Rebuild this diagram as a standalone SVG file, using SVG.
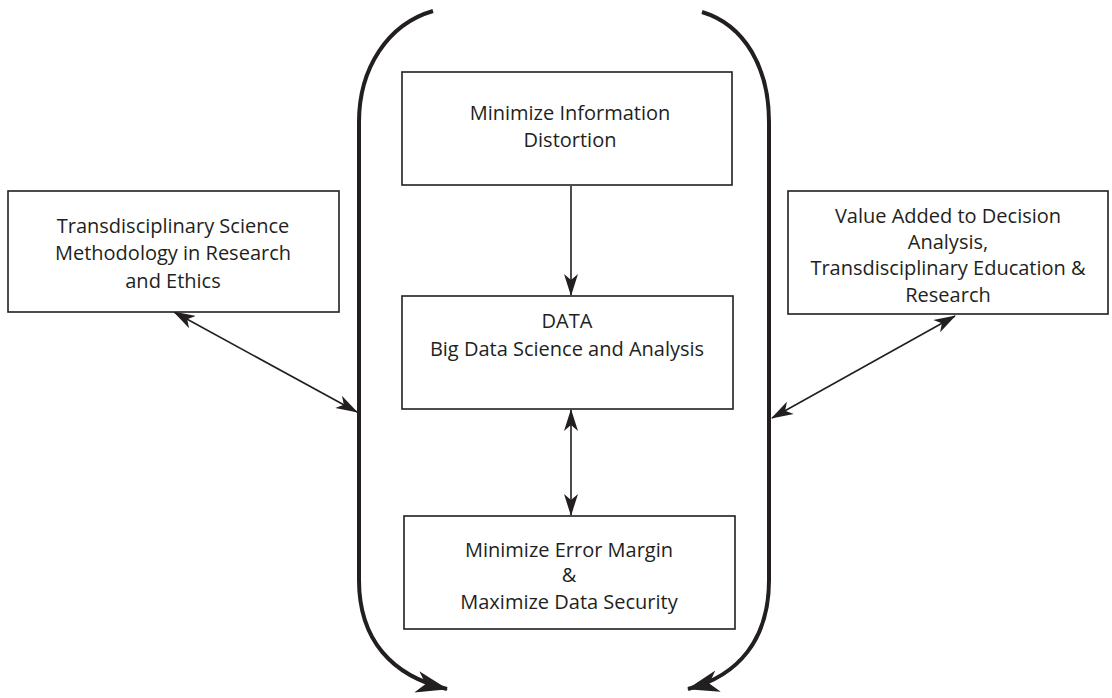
<svg xmlns="http://www.w3.org/2000/svg" width="1112" height="698" viewBox="0 0 1112 698">
<style>
.box{fill:#fff;stroke:#231f20;stroke-width:1.6}
.t{font-family:"Open Sans","Liberation Sans",sans-serif;font-size:20px;fill:#231f20;text-anchor:middle}
.c{fill:none;stroke:#231f20;stroke-width:1.6}
.br{fill:none;stroke:#231f20;stroke-width:4}
</style>
<defs>
<marker id="ah" viewBox="0 0 22 14" refX="21" refY="7" markerWidth="22" markerHeight="14" markerUnits="userSpaceOnUse" orient="auto-start-reverse">
<path d="M0,0 L22,7 L0,14 L6,7 Z" fill="#231f20"/>
</marker>
<marker id="bh" viewBox="0 0 32 22" refX="31" refY="11" markerWidth="32" markerHeight="22" markerUnits="userSpaceOnUse" orient="auto">
<path d="M0,0 L32,11 L0,22 L9,11 Z" fill="#231f20"/>
</marker>
</defs>
<g id="connectors">
<path class="br" d="M433,11 C388,24 359,68 359,122 L359,580 C359,640 392,676 447,689" marker-end="url(#bh)"/>
<path class="br" d="M702,12 C745,25 769,68 769,122 L769,580 C769,640 738,676 688,689" marker-end="url(#bh)"/>
<line class="c" x1="571" y1="186" x2="571" y2="295" marker-end="url(#ah)"/>
<line class="c" x1="571" y1="410" x2="571" y2="515" marker-start="url(#ah)" marker-end="url(#ah)"/>
<line class="c" x1="174" y1="312" x2="357" y2="412" marker-start="url(#ah)" marker-end="url(#ah)"/>
<line class="c" x1="955" y1="316" x2="772" y2="418" marker-start="url(#ah)" marker-end="url(#ah)"/>
</g>
<g id="n-left">
<rect class="box" x="8" y="191" width="331" height="121"/>
<text class="t" x="173" y="233">Transdisciplinary Science</text>
<text class="t" x="173" y="260">Methodology in Research</text>
<text class="t" x="173" y="288">and Ethics</text>
</g>
<g id="n-right">
<rect class="box" x="788" y="191" width="320" height="123"/>
<text class="t" x="948" y="223">Value Added to Decision</text>
<text class="t" x="948" y="249">Analysis,</text>
<text class="t" x="948" y="275">Transdisciplinary Education &amp;</text>
<text class="t" x="948" y="302">Research</text>
</g>
<g id="n-top">
<rect class="box" x="402" y="72" width="330" height="113"/>
<text class="t" x="570" y="120">Minimize Information</text>
<text class="t" x="570" y="147">Distortion</text>
</g>
<g id="n-data">
<rect class="box" x="402" y="296" width="331" height="113"/>
<text class="t" x="567" y="328">DATA</text>
<text class="t" x="567" y="356">Big Data Science and Analysis</text>
</g>
<g id="n-bottom">
<rect class="box" x="404" y="516" width="331" height="113"/>
<text class="t" x="569" y="557">Minimize Error Margin</text>
<text class="t" x="569" y="582">&amp;</text>
<text class="t" x="569" y="609">Maximize Data Security</text>
</g>
</svg>
